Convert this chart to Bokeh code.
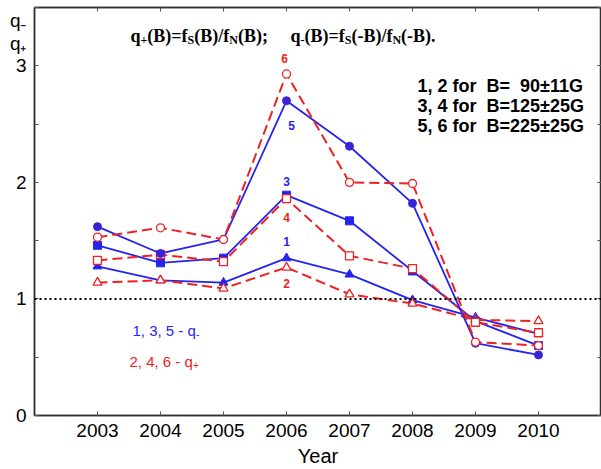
from bokeh.plotting import figure
from bokeh.models import (FixedTicker, LinearAxis, Label, Span, ColumnDataSource,
                          CustomJSTickFormatter)
from bokeh.embed import file_html
from bokeh.resources import INLINE

# ---- data ----
years = [2003, 2004, 2005, 2006, 2007, 2008, 2009, 2010]
q_minus_1 = [1.28, 1.16, 1.14, 1.35, 1.21, 0.99, 0.84, 0.70]
q_plus_2 = [1.14, 1.16, 1.09, 1.27, 1.04, 0.96, 0.82, 0.81]
q_minus_3 = [1.46, 1.31, 1.35, 1.89, 1.67, 1.24, 0.81, 0.60]
q_plus_4 = [1.33, 1.38, 1.32, 1.86, 1.37, 1.26, 0.80, 0.71]
q_minus_5 = [1.62, 1.39, 1.51, 2.70, 2.31, 1.82, 0.62, 0.52]
q_plus_6 = [1.53, 1.61, 1.51, 2.93, 2.00, 1.99, 0.63, 0.60]
x_ticks = [2003, 2004, 2005, 2006, 2007, 2008, 2009, 2010]
y_ticks = [0, 1, 2, 3]
y_minor = [0, 0.5, 1, 1.5, 2, 2.5, 3, 3.5]
y_axis_title = {3.39: "q\u208b", 3.19: "q\u208a"}
legend_lines = ["1, 2 for\u00a0\u00a0B=\u00a0\u00a090\u00b111G",
                "3, 4 for\u00a0\u00a0B=125\u00b125G",
                "5, 6 for\u00a0\u00a0B=225\u00b125G"]

BLUE = "#2424ee"
BLUE_C = "#3a22d8"
RED = "#ee2222"
SANS = "Liberation Sans"
SERIF = "Liberation Serif"

W, H = 601, 469
L, R, T, B = 34, 0, 7, 54
X0, X1 = 2002, 2011
Y0, Y1 = 0, 3.5
fw = W - L - R
fh = H - T - B

def px2x(px):
    return X0 + (px - L) / fw * (X1 - X0)

def py2y(py):
    return Y1 - (py - T) / fh * (Y1 - Y0)

p = figure(width=W, height=H, x_range=(X0, X1), y_range=(Y0, Y1),
           output_backend="svg", toolbar_location=None,
           min_border_left=L, min_border_right=R, min_border_top=T, min_border_bottom=B)
p.grid.visible = False
p.outline_line_color = "#333333"
p.outline_line_width = 1.5
p.background_fill_color = "white"
p.border_fill_color = "white"

blank = CustomJSTickFormatter(code="return ''")

def style_axis(ax, labels=True):
    ax.major_tick_in = 4
    ax.major_tick_out = 0
    ax.minor_tick_in = 4
    ax.minor_tick_out = 0
    ax.axis_line_color = "#333333"
    ax.axis_line_width = 1.5
    ax.major_tick_line_color = "#555555"
    ax.minor_tick_line_color = "#555555"
    ax.major_label_text_font = SANS
    ax.major_label_text_font_size = "19px"
    ax.major_label_text_color = "black"
    if not labels:
        ax.formatter = blank
        ax.major_label_standoff = 0

# bottom axis
xa = p.xaxis[0]
xa.ticker = FixedTicker(ticks=x_ticks)
style_axis(xa)
xa.major_label_standoff = 8
xa.axis_label = "Year"
xa.axis_label_text_font = SANS
xa.axis_label_text_font_size = "20px"
xa.axis_label_text_font_style = "normal"
xa.axis_label_text_color = "black"
xa.axis_label_standoff = 5

# left axis: numeric labels plus the stacked q-/q+ title as extra labels
ya = p.yaxis[0]
ya.ticker = FixedTicker(ticks=y_ticks + list(y_axis_title.keys()), minor_ticks=y_minor)
style_axis(ya)
ya.major_tick_in = 0
ya.major_label_overrides = {k: v for k, v in y_axis_title.items()}
ya.major_label_standoff = 8

top = LinearAxis(ticker=FixedTicker(ticks=x_ticks))
style_axis(top, labels=False)
p.add_layout(top, "above")
right = LinearAxis(ticker=FixedTicker(ticks=y_ticks, minor_ticks=y_minor))
style_axis(right, labels=False)
p.add_layout(right, "right")

p.add_layout(Span(location=1, dimension="width", line_color="black",
                  line_dash="2 3", line_width=2))

series = [
    (q_minus_1, "triangle", False),
    (q_plus_2, "triangle", True),
    (q_minus_3, "square", False),
    (q_plus_4, "square", True),
    (q_minus_5, "circle", False),
    (q_plus_6, "circle", True),
]
for vals, marker, is_plus in series:
    src = ColumnDataSource(dict(x=years, y=vals))
    if is_plus:
        p.line("x", "y", source=src, line_color=RED, line_width=2, line_dash="10 5")
        p.scatter("x", "y", source=src, marker=marker, size=8 if marker != "triangle" else 9,
                  fill_color="white", line_color=RED, line_width=1.3)
    else:
        p.line("x", "y", source=src, line_color=BLUE, line_width=1.8)
        col = BLUE_C if marker == "circle" else BLUE
        p.scatter("x", "y", source=src, marker=marker, size=8 if marker != "triangle" else 9,
                  fill_color=col, line_color=col)

# curve numbers near 2006
idx = years.index(2006)
num_specs = [("1", q_minus_1, -17, 0, BLUE), ("2", q_plus_2, 16, 0, RED),
             ("3", q_minus_3, -14, 0, BLUE), ("4", q_plus_4, 19, 0, RED),
             ("5", q_minus_5, 25, 5, BLUE), ("6", q_plus_6, -15, -2, RED)]
for txt, vals, dy, dx, col in num_specs:
    p.add_layout(Label(x=2006, y=vals[idx], text=txt, x_offset=dx, y_offset=-dy,
                       text_align="center", text_baseline="middle",
                       text_font=SANS, text_font_size="12px", text_font_style="bold",
                       text_color=col))

def add_text(px, py, text, size, font, color="black", style="normal"):
    p.add_layout(Label(x=px2x(px), y=py2y(py), text=text, text_align="left",
                       text_baseline="alphabetic", text_font=font,
                       text_font_size=f"{size}px", text_font_style=style,
                       text_color=color))

# title formula with subscripts (Times bold metrics)
tw = {'q': 556, '(': 333, ')': 333, 'B': 667, '=': 570, 'f': 333, '/': 278,
      ';': 333, '.': 250, '-': 333, '+': 570, 'S': 556, 'N': 722, ' ': 250}
MAIN, SUB = 18, 12
def formula(x_start, base, pieces):
    x = x_start
    for txt, is_sub in pieces:
        sz = SUB if is_sub else MAIN
        add_text(x, base + (4 if is_sub else 0), txt, sz, SERIF, style="bold")
        x += sum(tw[c] for c in txt) / 1000 * sz

formula(130, 35, [("q", 0), ("+", 1), ("(B)=f", 0), ("S", 1), ("(B)/f", 0), ("N", 1), ("(B);", 0)])
formula(290, 35, [("q", 0), ("-", 1), ("(B)=f", 0), ("S", 1), ("(-B)/f", 0), ("N", 1), ("(-B).", 0)])

# right-hand legend
for i, line in enumerate(legend_lines):
    add_text(417, 85 + i * 20, line, 18, SANS, style="bold")

# colour key
add_text(132, 330, "1, 3, 5 - q", 15, SANS, color=BLUE)
add_text(195.5, 333, "-", 10, SANS, color=BLUE)
add_text(129, 361, "2, 4, 6 - q", 15, SANS, color=RED)
add_text(192.5, 364, "+", 10, SANS, color=RED)

open("out.html", "w").write(file_html(p, INLINE))
